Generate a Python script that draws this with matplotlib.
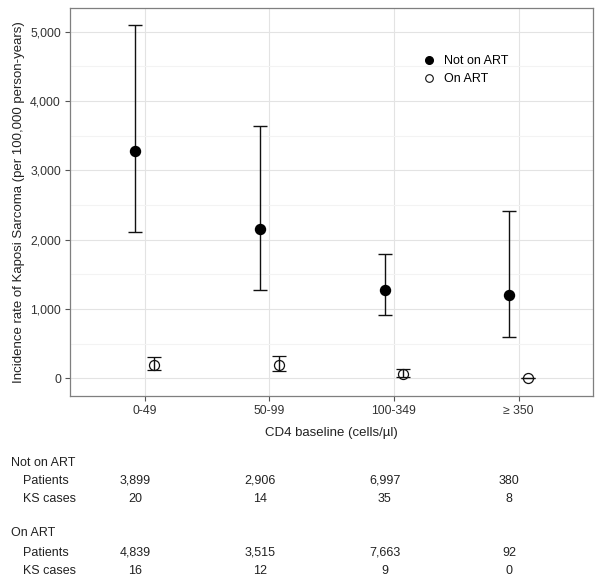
import numpy as np
import matplotlib
matplotlib.use("Agg")
import matplotlib.pyplot as plt
from matplotlib.lines import Line2D
from matplotlib import transforms

plt.rcParams['font.family'] = ['Liberation Sans', 'DejaVu Sans']

categories = ['0-49', '50-99', '100-349', '\u2265 350']

# incidence per 100,000 person-years, with 95% CI
not_art_rate = [3279, 2158, 1278, 1202]
not_art_low = [2115, 1278, 918, 600]
not_art_high = [5097, 3644, 1789, 2413]

on_art_rate = [190, 190, 68, 0]
on_art_low = [119, 110, 15, 0]
on_art_high = [302, 329, 134, 0]

# table under the plot
not_art_patients = ['3,899', '2,906', '6,997', '380']
not_art_cases = ['20', '14', '35', '8']
on_art_patients = ['4,839', '3,515', '7,663', '92']
on_art_cases = ['16', '12', '9', '0']

W, H = 602, 587
fig = plt.figure(figsize=(W / 100, H / 100), dpi=100)
ax = fig.add_axes([70 / W, 1 - 396 / H, (593.3 - 70) / W, (396 - 8) / H])

x = np.arange(1, len(categories) + 1)
dodge = 0.075
ink = '#111111'

def yerr(rate, low, high):
    r = np.array(rate)
    return np.vstack([r - np.array(low), np.array(high) - r])

ax.errorbar(x - dodge, not_art_rate, yerr=yerr(not_art_rate, not_art_low, not_art_high),
            fmt='o', ms=7.2, mfc='black', mec='black', ecolor=ink, elinewidth=1.0,
            capsize=4.9, capthick=1.0, zorder=3)
ax.errorbar(x + dodge, on_art_rate, yerr=yerr(on_art_rate, on_art_low, on_art_high),
            fmt='o', ms=7.2, mfc='none', mec=ink, mew=0.9, ecolor=ink, elinewidth=1.0,
            capsize=4.9, capthick=1.0, zorder=3)

ax.set_xlim(0.4, 4.6)
ax.set_ylim(-255, 5342)
ax.set_xticks(x)
ax.set_xticklabels(categories)
ax.set_yticks(np.arange(0, 5001, 1000))
ax.set_yticklabels([f'{v:,}' for v in range(0, 5001, 1000)])
ax.set_yticks(np.arange(500, 5001, 1000), minor=True)
ax.tick_params(axis='both', which='major', labelsize=8.8, colors='#555555',
               labelcolor='#333333', length=3.5, width=0.8, pad=3)
ax.tick_params(axis='y', which='minor', length=0)
ax.grid(True, which='major', color='#e3e3e3', linewidth=0.8)
ax.grid(True, which='minor', axis='y', color='#f3f3f3', linewidth=0.8)
ax.set_axisbelow(True)
for s in ax.spines.values():
    s.set_color('#7f7f7f')
    s.set_linewidth(0.9)

ax.set_xlabel('CD4 baseline (cells/\u00b5l)', fontsize=9.5, color='#222222', labelpad=7.5)
ax.set_ylabel('Incidence rate of Kaposi Sarcoma (per 100,000 person-years)',
              fontsize=9.5, color='#222222', labelpad=4)

handles = [Line2D([], [], ls='none', marker='o', ms=5.5, mfc='black', mec='black'),
           Line2D([], [], ls='none', marker='o', ms=5.5, mfc='white', mec=ink, mew=0.8)]
ax.legend(handles, ['Not on ART', 'On ART'], loc='center left',
          bbox_to_anchor=(423 / W, 1 - 70 / H), bbox_transform=fig.transFigure,
          frameon=False, fontsize=9, handlelength=1, handletextpad=0.7,
          labelspacing=0.5, borderpad=0, borderaxespad=0)

# table below the chart
tr = transforms.blended_transform_factory(ax.transData, fig.transFigure)
rows = [(461, 'Not on ART', None, 11),
        (479, 'Patients', not_art_patients, 23),
        (497, 'KS cases', not_art_cases, 23),
        (532, 'On ART', None, 11),
        (551, 'Patients', on_art_patients, 23),
        (569, 'KS cases', on_art_cases, 23)]
for ypix, label, vals, xpix in rows:
    base = 1 - (ypix + 4.5) / H
    fig.text(xpix / W, base, label, fontsize=9, color='#222222',
             ha='left', va='baseline')
    if vals is not None:
        for xi, v in zip(x - dodge, vals):
            ax.text(xi, base, v, transform=tr, fontsize=9, color='#222222',
                    ha='center', va='baseline', clip_on=False)

fig.savefig('out.png', dpi=100)
